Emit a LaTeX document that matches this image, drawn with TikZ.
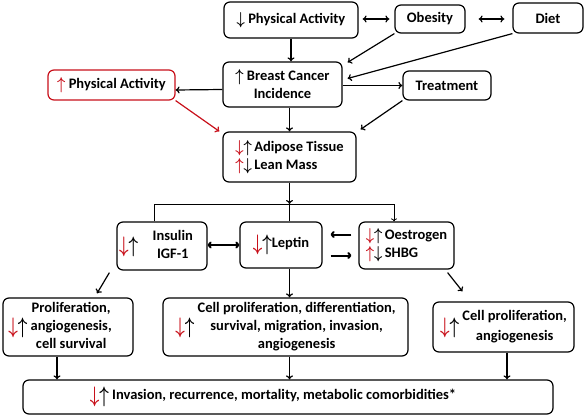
\documentclass[tikz,border=0pt]{standalone}
\usepackage{fontspec}
\setmainfont{Carlito}
\usepackage{tikz}
\usetikzlibrary{arrows.meta}
\definecolor{arrowred}{RGB}{200,16,26}
\newcommand{\upk}{\raisebox{-1pt}{\scalebox{1}[1.2]{\boldmath$\uparrow$}}}
\newcommand{\dnk}{\raisebox{-1pt}{\scalebox{1}[1.2]{\boldmath$\downarrow$}}}
\newcommand{\upr}{\textcolor{arrowred}{\upk}}
\newcommand{\dnr}{\textcolor{arrowred}{\dnk}}
\newcommand{\twoarr}{\raisebox{-2pt}{\scalebox{1.15}[1.3]{\dnr\upk}}}

\tikzset{
  box/.style={draw, rounded corners=6pt, line width=1.2pt, align=center, inner sep=2pt,
    font=\fontsize{14.5}{18}\selectfont\bfseries},
  link/.style={line width=1.2pt, -{To[length=4pt,width=7pt]}},
  dlink/.style={line width=1.2pt, {To[length=4pt,width=7pt]}-{To[length=4pt,width=7pt]}},
}

\begin{document}
\begin{tikzpicture}[x=1pt,y=-1pt]
  \useasboundingbox (0,0) rectangle (585,417);
  \node (pa) at (291,20)[box, minimum width=134pt, minimum height=36pt]{\dnk\ Physical Activity};
  \node (obes) at (430,19)[box, minimum width=70pt, minimum height=28pt]{Obesity};
  \node (diet) at (548,18)[box, minimum width=70pt, minimum height=30pt]{Diet};
  \node (redpa) at (111.5,85)[box, draw=arrowred, minimum width=127pt, minimum height=30pt]{\upr\ Physical Activity};
  \node (bci) at (282.5,84.5)[box, minimum width=119pt, minimum height=45pt]{\upk\ Breast Cancer\\Incidence};
  \node (treat) at (447,85.5)[box, minimum width=88pt, minimum height=29pt]{Treatment};
  \node (adip) at (289.5,157)[box, align=left, minimum width=133pt, minimum height=50pt]{\dnr\upk\,Adipose Tissue\\\upr\dnk\,Lean Mass};
  \node (ins) at (162,246)[box, minimum width=90pt, minimum height=48pt]{\twoarr\quad\begin{tabular}{@{}c@{}}Insulin\\IGF-1\end{tabular}\hspace{12pt}};
  \node (lep) at (281,245)[box, minimum width=82pt, minimum height=46pt]{\twoarr Leptin};
  \node (oes) at (406.5,245.5)[box, align=left, minimum width=95pt, minimum height=47pt]{\dnr\upk\,Oestrogen\\\upr\dnk\,SHBG};
  \node (prol) at (68,327)[box, minimum width=130pt, minimum height=52pt]{\twoarr\ \begin{tabular}{@{}c@{}}Proliferation,\\angiogenesis,\\cell survival\end{tabular}\hspace{16pt}};
  \node (cell) at (285.5,327)[box, minimum width=245pt, minimum height=51pt]{\twoarr\ \begin{tabular}{@{}c@{}}Cell proliferation, differentiation,\\survival, migration, invasion,\\angiogenesis\end{tabular}};
  \node (cell2) at (503.5,327)[box, minimum width=141pt, minimum height=50pt]{\twoarr\ \begin{tabular}{@{}c@{}}Cell proliferation,\\[2pt]angiogenesis\end{tabular}};
  \node (bot) at (288,397)[box, minimum width=530pt, minimum height=34pt]{\twoarr\ Invasion, recurrence, mortality, metabolic comorbidities*\hspace{30pt}};

  \draw[dlink, shorten <=4pt, shorten >=5pt] (pa.east |- obes) -- (obes.west);
  \draw[dlink, shorten <=13pt, shorten >=8pt] (obes.east) -- (obes.east -| diet.west);
  \draw[link] (pa.south) -- (pa.south |- bci.north);
  \draw[link] (obes.south west) -- ([xshift=5pt,yshift=-1pt]bci.north east);
  \draw[link] (diet.south west) -- ([xshift=5pt,yshift=6pt]bci.east);
  \draw[link] ([yshift=-5pt]bci.west) -- ([yshift=-5pt]redpa.east);
  \draw[link] (bci.east |- treat.west) -- (treat.west);
  \draw[link] (bci.south -| adip.north) -- (adip.north);
  \draw[link, draw=arrowred] (redpa.south east) -- ([xshift=-3pt]adip.north west);
  \draw[link] (treat.south west) -- ([xshift=4pt,yshift=2pt]adip.north east);

  \coordinate (split) at (289.5,204);
  \draw[link] (adip.south) -- (split);
  \draw[line width=0.8pt] ([xshift=-8pt]ins.north) |- (split) -- (split |- lep.north);
  \draw[line width=0.8pt, -{To[length=3pt,width=6pt]}] (split) -| ([xshift=-12.5pt]oes.north);
  \draw[dlink, line width=2pt] (ins.east |- lep) -- (lep.west);
  \draw[link, line width=2pt, shorten <=7pt, shorten >=8pt] ([yshift=11pt]oes.west) -- ([yshift=11pt]oes.west -| lep.east);
  \draw[link, line width=2pt, shorten <=8pt, shorten >=7pt] ([yshift=-10pt]oes.west -| lep.east) -- ([yshift=-10pt]oes.west);

  \draw[link] ([xshift=-7pt,yshift=-2pt]ins.south west) -- ([xshift=29pt,yshift=4pt]prol.north);
  \draw[link] (lep.south -| split) -- (cell.north -| split);
  \draw[link] ([xshift=-7pt,yshift=-3pt]oes.south east) -- ([xshift=-41pt,yshift=10pt]cell2.north);
  \foreach \n/\s in {prol/-11pt, cell/4pt, cell2/3.5pt}{
    \draw[link] ([xshift=\s]\n.south) -- ([xshift=\s]\n.south |- bot.north);
  }
\end{tikzpicture}
\end{document}
